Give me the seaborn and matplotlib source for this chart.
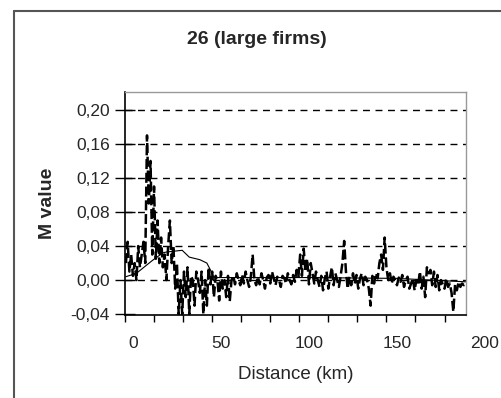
import numpy as np
import pandas as pd
import matplotlib
matplotlib.use("Agg")
import matplotlib.pyplot as plt
import seaborn as sns
from matplotlib.lines import Line2D
from matplotlib.ticker import FuncFormatter

# distance classes (km) and M values
distance = np.arange(-4, 190)
m_values = [
    0.02, 0.045, 0.01, 0.03, 0.005,
    0.02, 0.0, 0.04, 0.015, 0.03, 0.045, 0.02,
    0.17, 0.09, 0.14, 0.03, 0.11, 0.025, 0.07, 0.02, 0.05, 0.015,
    0.03, 0.0, 0.04, 0.07, 0.02, 0.04, -0.01,
    0.02, -0.04, 0.0, -0.04, 0.01, -0.02, 0.015, -0.04, 0.005,
    0.0, -0.03, 0.01, 0.0, -0.015, 0.01, -0.04, 0.0, -0.03, 0.015, -0.005, 0.01,
    -0.02, 0.005, 0.0, -0.024, 0.01, -0.01, 0.0, -0.02, 0.005, -0.025, 0.0,
    0.005, -0.005, 0.008, 0.0, -0.006, 0.006, -0.004, 0.01, 0.0, -0.008, 0.004, 0.03, 0.0, -0.006,
    0.004, -0.005, 0.008, 0.0, -0.01, 0.003, 0.006, -0.004, 0.01, 0.002,
    -0.006, 0.004, 0.0, -0.008, 0.005, 0.002, -0.004, 0.008, 0.0, -0.005,
    0.006, -0.002, 0.012, 0.004, 0.03, 0.005, 0.037, 0.01, 0.025, -0.005, 0.02, 0.008, -0.004, 0.01, 0.0,
    -0.008, 0.005, -0.012, 0.002, 0.01, -0.01, 0.004, 0.015, -0.006, 0.008,
    0.0, -0.008, 0.005, 0.02, 0.046, 0.01, -0.01, 0.004, -0.006, 0.008,
    -0.004, 0.006, -0.01, 0.002, 0.008, -0.006, 0.004, 0.0, -0.01, -0.03,
    0.005, -0.004, 0.008, 0.002, 0.02, 0.03, 0.012, 0.05, 0.015, 0.0,
    0.008, -0.004, 0.004, 0.0, -0.006, 0.003, -0.002, 0.006, -0.008, 0.0,
    0.004, -0.01, -0.004, 0.002, -0.012, 0.0, -0.006, 0.01, -0.01, 0.004,
    -0.02, 0.015, 0.008, 0.012, -0.006, 0.01, -0.008, 0.006, -0.012, 0.0,
    -0.005, -0.01, 0.002, -0.008, -0.004, -0.015, -0.037, -0.005, -0.012, -0.002,
    -0.008, -0.004, -0.006, -0.004,
]
# thin reference line (confidence bound)
ci_x = [-4, 2, 11, 17, 19, 28, 32, 38, 42, 44, 46, 100, 150, 189]
ci_y = [0.004, 0.008, 0.023, 0.032, 0.033, 0.035, 0.027, 0.024, 0.02, 0.012,
        0.003, 0.003, 0.002, -0.002]

y_ticks = [-0.04, 0.00, 0.04, 0.08, 0.12, 0.16, 0.20]
x_ticks = [0, 50, 100, 150]

df = pd.DataFrame({"distance": distance, "m": m_values})
ci = pd.DataFrame({"distance": ci_x, "m": ci_y})

sns.set_style("white")
plt.rcParams["font.family"] = ["Liberation Sans", "DejaVu Sans"]

fig = plt.figure(figsize=(5.01, 3.98), dpi=100)
ax = fig.add_axes([125 / 501, 1 - 315 / 398, 341 / 501, 223 / 398])

# outer chart frame (cropped on the right and bottom)
fig.add_artist(Line2D([14 / 501, 14 / 501], [0, 1 - 11 / 398], color="#555555", lw=1.5,
                      transform=fig.transFigure))
fig.add_artist(Line2D([14 / 501, 1], [1 - 11 / 398, 1 - 11 / 398], color="#555555", lw=1.5,
                      transform=fig.transFigure))

for v in y_ticks[1:]:
    ax.axhline(v, color="black", lw=1, ls=(0, (5, 4)), zorder=1)

sns.lineplot(data=ci, x="distance", y="m", ax=ax, color="black", linewidth=0.8, zorder=2)
sns.lineplot(data=df, x="distance", y="m", ax=ax, color="black", linewidth=1.8,
             linestyle=(0, (4, 1.5)), zorder=3)

ax.set_xlim(-4.5, 189.2)
ax.set_ylim(-0.041, 0.221)
ax.set_yticks(y_ticks)
ax.yaxis.set_major_formatter(FuncFormatter(lambda v, p: f"{v:.2f}".replace(".", ",")))
ax.tick_params(axis="y", direction="inout", length=14, width=1, labelsize=12.5, pad=4,
               color="black", left=True)

ax.set_xticks(x_ticks)
ax.set_xticks([-4.5, 12, 28.5, 45, 61.5, 78, 94.5, 111, 127.5, 144, 160.5, 177], minor=True)
ax.tick_params(axis="x", which="major", length=0, labelsize=12.5, pad=15)
ax.tick_params(axis="x", which="minor", direction="out", length=5, width=1, color="black",
               bottom=True)
ax.text(200, -0.074, "200", transform=ax.transData, ha="center", va="center",
        fontsize=12.5, clip_on=False)

for s in ["left", "bottom"]:
    ax.spines[s].set_color("black")
    ax.spines[s].set_linewidth(1.2)
for s in ["top", "right"]:
    ax.spines[s].set_visible(True)
    ax.spines[s].set_color("#999999")
    ax.spines[s].set_linewidth(1)

ax.set_xlabel("Distance (km)", fontsize=13.5, labelpad=11)
ax.set_ylabel("M value", fontsize=14, fontweight="bold", labelpad=10)
fig.text(257 / 501, 1 - 40 / 398, "26 (large firms)", ha="center", va="center",
         fontsize=14, fontweight="bold")

fig.savefig("out.png", dpi=100)
